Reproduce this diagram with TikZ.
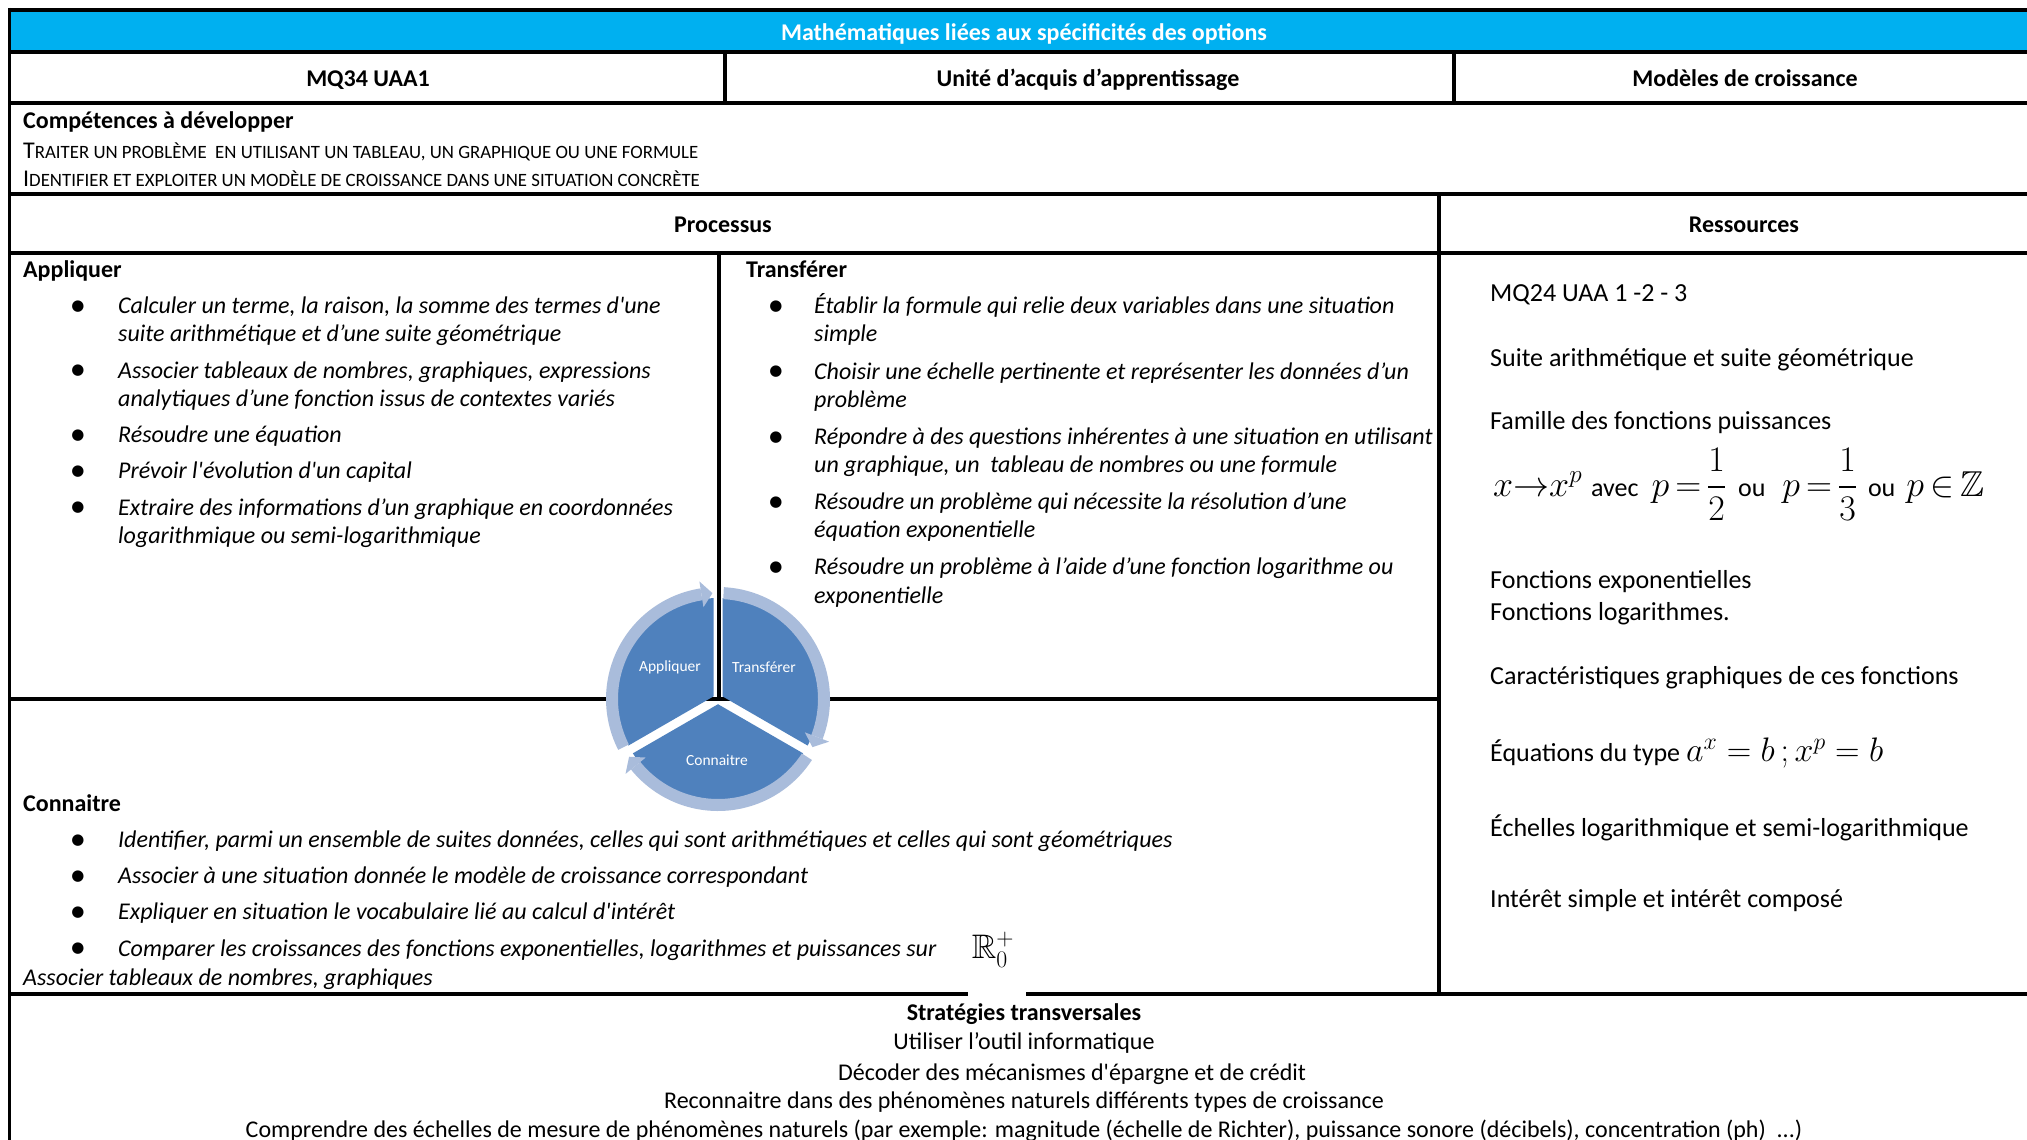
\RequirePackage{fix-cm}
\documentclass[tikz,border=0pt]{standalone}
\usepackage{amssymb}
\DeclareFontFamily{U}{msb}{}
\DeclareFontShape{U}{msb}{m}{n}{<-6> msbm5 <6-8> msbm7 <8-> msbm10}{}
\usepackage[no-math]{fontspec}
\setmainfont{Carlito}
\newfontfamily\dejavu{DejaVu Sans}
\definecolor{hdrblue}{HTML}{00B0F0}
\definecolor{segblue}{HTML}{4F81BD}
\definecolor{ringblue}{HTML}{A9BCDB}
\newcommand\fsz[2]{\fontsize{#1}{#2}\selectfont}
\newcommand\fsc[2]{{\fsz{24}{28}#1}{\fsz{18.8}{22}#2}}
\newcommand\sq{\textquotesingle}
\begin{document}
\begin{tikzpicture}[x=1pt,y=-1pt,
  rule/.style={line width=4pt},
  vrule/.style={line width=3.5pt},
  it/.style={inner sep=0pt, anchor=base west, font=\fsz{24}{29}\itshape},
  hd/.style={inner sep=0pt, anchor=base, font=\fsz{24}{29}\bfseries},
  hdl/.style={inner sep=0pt, anchor=base west, font=\fsz{24}{29}\bfseries},
  res/.style={inner sep=0pt, anchor=base west, font=\fsz{26}{31}},
  strat/.style={inner sep=0pt, anchor=base, font=\fsz{24}{29}},
  bul/.style={inner sep=0pt, anchor=center, font=\fsz{15}{17}\dejavu},
  seg/.style={fill=segblue},
  ring/.style={fill=ringblue},
  segtxt/.style={text=white, font=\fsz{15.5}{19}, inner sep=0pt, anchor=center},
]
\useasboundingbox (0,0) rectangle (2027,1140);
\fill[white] (0,0) rectangle (2027,1140);
% header band
\fill[hdrblue] (9,10) rectangle (2027,52);
% table rules
\draw[rule] (8,10) -- (2027,10);
\draw[rule] (8,52) -- (2027,52);
\draw[rule] (8,103) -- (2027,103);
\draw[rule] (8,194) -- (2027,194);
\draw[rule] (8,253) -- (2027,253);
\draw[rule] (8,699) -- (1439,699);
\draw[rule] (8,994) -- (2027,994);
\draw[vrule] (9.5,8) -- (9.5,1140);
\draw[vrule] (725,52) -- (725,103);
\draw[vrule] (1454,52) -- (1454,103);
\draw[vrule] (1439,194) -- (1439,994);
\draw[vrule] (719,253) -- (719,699);
% white background of the R0+ picture
\fill[white] (968,990) rectangle (1026,998);

\begin{scope}[yshift=-1.5pt]
% header texts
\node[hd, text=white] (title) at (1024,39) {Mathématiques liées aux spécificités des options};
\node[hd] (c1) at (368,85) {MQ34 UAA1};
\node[hd] (c2) at (1088,85) {Unité d’acquis d’apprentissage};
\node[hd] (c3) at (1745,85) {Modèles de croissance};
\node[hdl] (comp) at (23,127) {Compétences à développer};
\node[inner sep=0pt, anchor=base west] (sc1) at (23,157) {\fsc{T}{RAITER UN PROBLÈME\ \ EN UTILISANT UN TABLEAU, UN GRAPHIQUE OU UNE FORMULE}};
\node[inner sep=0pt, anchor=base west] (sc2) at (23,185) {\fsc{I}{DENTIFIER ET EXPLOITER UN MODÈLE DE CROISSANCE DANS UNE SITUATION CONCRÈTE}};
\node[hd] (proc) at (723,231) {Processus};
\node[hd] (ress) at (1744,231) {Ressources};

% Appliquer
\node[hdl] (app) at (23,276) {Appliquer};
\node[bul] (ba1) at (78,305) {●};
\node[it] (a1a) at (118,312) {Calculer un terme, la raison, la somme des termes d\sq une};
\node[it] (a1b) at (118,340.4) {suite arithmétique et d’une suite géométrique};
\node[bul] (ba2) at (78,369.6) {●};
\node[it] (a2a) at (118,376.6) {Associer tableaux de nombres, graphiques, expressions};
\node[it] (a2b) at (118,405) {analytiques d’une fonction issus de contextes variés};
\node[bul] (ba3) at (78,434.2) {●};
\node[it] (a3) at (118,441.2) {Résoudre une équation};
\node[bul] (ba4) at (78,470.4) {●};
\node[it] (a4) at (118,477.4) {Prévoir l\sq évolution d\sq un capital};
\node[bul] (ba5) at (78,506.6) {●};
\node[it] (a5a) at (118,513.6) {Extraire des informations d’un graphique en coordonnées};
\node[it] (a5b) at (118,542) {logarithmique ou semi-logarithmique};

% Transferer
\node[hdl] (tra) at (746,276) {Transférer};
\node[bul] (bt1) at (776,305) {●};
\node[it] (t1a) at (814,312) {Établir la formule qui relie deux variables dans une situation};
\node[it] (t1b) at (814,340.4) {simple};
\node[bul] (bt2) at (776,370.5) {●};
\node[it] (t2a) at (814,377.5) {Choisir une échelle pertinente et représenter les données d’un};
\node[it] (t2b) at (814,406) {problème};
\node[bul] (bt3) at (776,435.8) {●};
\node[it] (t3a) at (814,442.8) {Répondre à des questions inhérentes à une situation en utilisant};
\node[it] (t3b) at (814,471.2) {un graphique, un\ \ tableau de nombres ou une formule};
\node[bul] (bt4) at (776,500.8) {●};
\node[it] (t4a) at (814,507.8) {Résoudre un problème qui nécessite la résolution d’une};
\node[it] (t4b) at (814,536.2) {équation exponentielle};
\node[bul] (bt5) at (776,566.2) {●};
\node[it] (t5a) at (814,573.2) {Résoudre un problème à l’aide d’une fonction logarithme ou};
\node[it] (t5b) at (814,602) {exponentielle};

% Connaitre
\node[hdl] (con) at (23,810) {Connaitre};
\node[bul] (bc1) at (78,839) {●};
\node[it] (k1) at (118,846) {Identifier, parmi un ensemble de suites données, celles qui sont arithmétiques et celles qui sont géométriques};
\node[bul] (bc2) at (78,875) {●};
\node[it] (k2) at (118,882) {Associer à une situation donnée le modèle de croissance correspondant};
\node[bul] (bc3) at (78,911) {●};
\node[it] (k3) at (118,918) {Expliquer en situation le vocabulaire lié au calcul d\sq intérêt};
\node[bul] (bc4) at (78,947.5) {●};
\node[it] (k4) at (118,954.5) {Comparer les croissances des fonctions exponentielles, logarithmes et puissances sur};
\node[inner sep=0pt, anchor=center] (rplus) at (993,948) {\fsz{34}{38}$\mathbb{R}_{0}^{+}$};
\node[it] (k5) at (23,984) {Associer tableaux de nombres, graphiques};

% Ressources
\node[res] (r1) at (1490,300.2) {MQ24 UAA 1 -2 - 3};
\node[res] (r2) at (1490,365.2) {Suite arithmétique et suite géométrique};
\node[res] (r3) at (1490,428.2) {Famille des fonctions puissances};
\node[res] (r4) at (1493,494.5) {\fsz{36}{40}$x{\to}x^{p}$\hspace{9pt}{\fsz{26}{30}avec}\hspace{13pt}$p\,{=}\,\displaystyle\frac{1}{2}$\hspace{12pt}{\fsz{26}{30}ou}\hspace{17pt}$p\,{=}\,\displaystyle\frac{1}{3}$\hspace{11pt}{\fsz{26}{30}ou}\hspace{11pt}$p\,{\in}\,\mathbb{Z}$};
\node[res] (r5) at (1490,587.2) {Fonctions exponentielles};
\node[res] (r6) at (1490,619.2) {Fonctions logarithmes.};
\node[res] (r7) at (1490,683.2) {Caractéristiques graphiques de ces fonctions};
\node[res] (r8) at (1490,760.2) {Équations du type \fsz{34}{40}$a^{x}=b\,;x^{p}=b$};
\node[res] (r9) at (1490,835.2) {Échelles logarithmique et semi-logarithmique};
\node[res] (r10) at (1490,906.2) {Intérêt simple et intérêt composé};

% Strategies
\node[hd] (st0) at (1024,1019) {Stratégies transversales};
\node[strat] (st1) at (1024,1048) {Utiliser l’outil informatique};
\node[strat] (st2) at (1072,1079) {Décoder des mécanismes d\sq épargne et de crédit};
\node[strat] (st3) at (1024,1107) {Reconnaitre dans des phénomènes naturels différents types de croissance};
\node[strat] (st4) at (1024,1135.5) {Comprendre des échelles de mesure de phénomènes naturels (par exemple: magnitude (échelle de Richter), puissance sonore (décibels), concentration (ph)\ \ ...)};
\end{scope}

% cycle diagram
\begin{scope}[shift={(718,699)}, x=1pt, y=1pt]
  \fill[seg] (150:5.2) -- (92.55:101) arc[start angle=92.55, end angle=207.45, radius=101] -- cycle;
  \fill[seg] (30:5.2) -- (-27.45:101) arc[start angle=-27.45, end angle=87.45, radius=101] -- cycle;
  \fill[seg] (270:5.2) -- (212.55:101) arc[start angle=212.55, end angle=327.45, radius=101] -- cycle;
  % rings with arrowheads (clockwise)
  \fill[ring] (207:100) arc[start angle=207, end angle=99, radius=100] -- (99:112) arc[start angle=99, end angle=207, radius=112] -- cycle;
  \fill[ring] (99:93) -- (93:106) -- (99:119) -- cycle;
  \fill[ring] (87:100) arc[start angle=87, end angle=-21, radius=100] -- (-21:112) arc[start angle=-21, end angle=87, radius=112] -- cycle;
  \fill[ring] (-21:93) -- (-27:106) -- (-21:119) -- cycle;
  \fill[ring] (-33:100) arc[start angle=-33, end angle=-141, radius=100] -- (-141:112) arc[start angle=-141, end angle=-33, radius=112] -- cycle;
  \fill[ring] (-141:93) -- (-147:106) -- (-141:119) -- cycle;
\end{scope}
\node[segtxt] (sApp) at (670,667) {Appliquer};
\node[segtxt] (sTra) at (764,667) {Transférer};
\node[segtxt] (sCon) at (717,760) {Connaitre};
\end{tikzpicture}
\end{document}
